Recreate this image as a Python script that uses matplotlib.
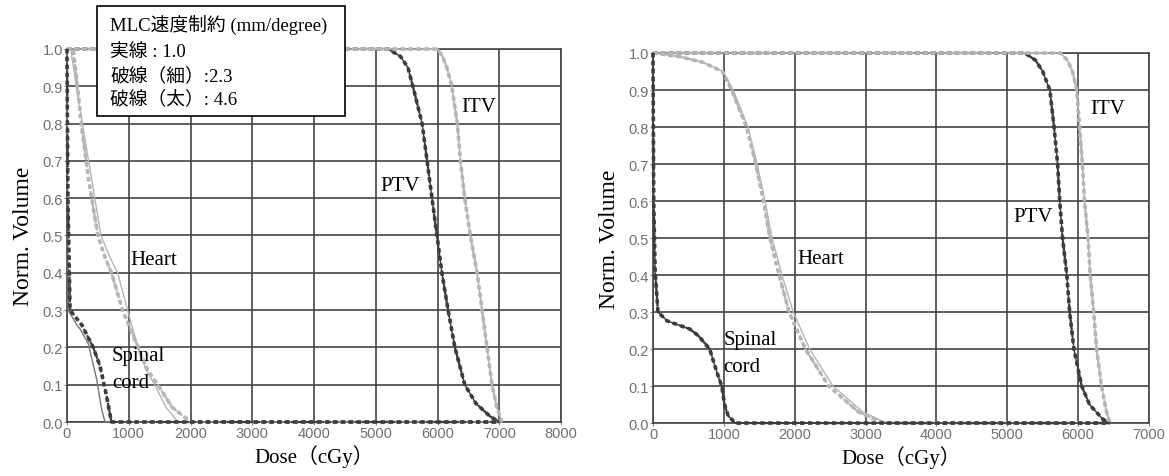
import matplotlib
matplotlib.use("Agg")
import matplotlib.pyplot as plt
from matplotlib.patches import Rectangle

# ---- data: dose (cGy) vs normalized volume ----
# left plan
L_ptv_dose = [0, 5200, 5400, 5520, 5600, 5750, 5830, 5910, 5990, 6070, 6170, 6280, 6440, 6620, 6850, 7000]
L_ptv_vol = [1, 1, 0.98, 0.95, 0.9, 0.8, 0.7, 0.6, 0.5, 0.4, 0.3, 0.2, 0.1, 0.05, 0.015, 0]
L_itv_dose = [0, 6000, 6080, 6150, 6230, 6320, 6370, 6440, 6530, 6640, 6720, 6800, 6880, 6960, 7040]
L_itv_vol = [1, 1, 0.98, 0.95, 0.9, 0.8, 0.7, 0.6, 0.5, 0.4, 0.3, 0.2, 0.1, 0.04, 0]
L_heart_dose_solid = [0, 60, 150, 250, 400, 550, 700, 820, 980, 1150, 1280, 1420, 1600, 1800, 7000]
L_heart_dose_dash = [0, 100, 170, 230, 350, 500, 620, 720, 900, 1150, 1300, 1470, 1700, 2000, 7000]
L_heart_vol = [1, 1, 0.9, 0.8, 0.65, 0.5, 0.44, 0.4, 0.3, 0.2, 0.14, 0.1, 0.04, 0, 0]
L_cord_dose_solid = [0, 0, 10, 20, 160, 210, 345, 480, 560, 615, 7000]
L_cord_vol_solid = [1, 0.98, 0.6, 0.3, 0.26, 0.25, 0.21, 0.115, 0.035, 0, 0]
L_cord_dose_dash = [0, 0, 15, 50, 240, 425, 535, 640, 720, 7000]
L_cord_vol_dash = [1, 0.98, 0.6, 0.3, 0.26, 0.2, 0.15, 0.07, 0, 0]

# right plan
R_ptv_dose = [0, 5250, 5400, 5500, 5600, 5660, 5710, 5740, 5780, 5840, 5880, 5940, 6050, 6160, 6350, 6450]
R_ptv_vol = [1, 1, 0.98, 0.95, 0.9, 0.8, 0.7, 0.6, 0.5, 0.4, 0.3, 0.2, 0.1, 0.05, 0.01, 0]
R_itv_dose = [0, 5750, 5850, 5920, 5980, 6020, 6060, 6090, 6140, 6170, 6220, 6260, 6330, 6400, 6450]
R_itv_vol = [1, 1, 0.98, 0.95, 0.9, 0.8, 0.7, 0.6, 0.5, 0.4, 0.3, 0.2, 0.1, 0.03, 0]
R_heart_dose_solid = [0, 380, 700, 990, 1130, 1340, 1470, 1580, 1680, 1820, 1980, 2210, 2540, 2960, 3300, 6450]
R_heart_dose_dash = [0, 380, 700, 980, 1110, 1320, 1450, 1560, 1650, 1780, 1920, 2150, 2480, 2900, 3250, 6450]
R_heart_vol = [1, 0.99, 0.975, 0.95, 0.9, 0.8, 0.7, 0.6, 0.5, 0.4, 0.3, 0.2, 0.1, 0.03, 0, 0]
R_cord_dose = [0, 0, 10, 30, 70, 200, 520, 640, 800, 900, 970, 1010, 1060, 1160, 6450]
R_cord_vol = [1, 0.99, 0.6, 0.41, 0.3, 0.276, 0.254, 0.236, 0.2, 0.138, 0.1, 0.05, 0.02, 0, 0]

DARK = "#3c3c3c"
LIGHT = "#b5b5b5"
SERIF = ["Liberation Serif", "Noto Sans CJK JP"]
THIN = (0, (2, 1.2))
THICK = (0, (1.2, 1.0))


def line(ax, x, y, color, kind):
    # solid = 1.0, thin dashed = 2.3, thick dashed = 4.6 mm/degree
    if kind == "solid":
        ax.plot(x, y, color=color, lw=1.0, clip_on=False, zorder=3)
    elif kind == "thin":
        ax.plot(x, y, color=color, lw=1.6, ls=THIN, clip_on=False, zorder=3)
    else:
        ax.plot(x, y, color=color, lw=2.6, ls=THICK, clip_on=False, zorder=3)


def curve(ax, x, y, color):
    for k in ("solid", "thin", "thick"):
        line(ax, x, y, color, k)


def style(ax, xmax):
    ax.set_xlim(0, xmax)
    ax.set_ylim(0, 1)
    ax.set_xticks(range(0, xmax + 1, 1000))
    ax.set_yticks([i / 10 for i in range(11)])
    ax.set_yticklabels([f"{i / 10:.1f}" for i in range(11)])
    ax.grid(True, color="#444444", lw=1.2)
    ax.set_axisbelow(True)
    for s in ax.spines.values():
        s.set_color("#444444")
        s.set_linewidth(1.2)
    ax.tick_params(length=2, width=0.8, color="#888888", pad=1,
                   labelsize=10.5, labelcolor="#707070")
    for lab in ax.get_xticklabels() + ax.get_yticklabels():
        lab.set_family("Liberation Sans")
    ax.set_ylabel("Norm. Volume", family=SERIF, fontsize=17, labelpad=6)
    ax.set_xlabel("Dose（cGy）", family=SERIF, fontsize=15, labelpad=3)


fig = plt.figure(figsize=(11.69, 4.77), dpi=100)

# left panel
ax1 = fig.add_axes([0.0573, 0.1132, 0.4227, 0.782])
style(ax1, 8000)
curve(ax1, L_ptv_dose, L_ptv_vol, DARK)
curve(ax1, L_itv_dose, L_itv_vol, LIGHT)
line(ax1, L_heart_dose_solid, L_heart_vol, LIGHT, "solid")
line(ax1, L_heart_dose_dash, L_heart_vol, LIGHT, "thin")
line(ax1, L_heart_dose_dash, L_heart_vol, LIGHT, "thick")
line(ax1, L_cord_dose_solid, L_cord_vol_solid, "#777777", "solid")
line(ax1, L_cord_dose_dash, L_cord_vol_dash, DARK, "thin")
line(ax1, L_cord_dose_dash, L_cord_vol_dash, DARK, "thick")
ax1.text(6660, 0.845, "ITV", family=SERIF, fontsize=15, ha="center", va="center")
ax1.text(5390, 0.633, "PTV", family=SERIF, fontsize=15, ha="center", va="center")
ax1.text(1400, 0.435, "Heart", family=SERIF, fontsize=15, ha="center", va="center")
ax1.text(730, 0.177, "Spinal", family=SERIF, fontsize=15, ha="left", va="center")
ax1.text(730, 0.107, "cord", family=SERIF, fontsize=15, ha="left", va="center")

# right panel
ax2 = fig.add_axes([0.5586, 0.111, 0.4243, 0.7758])
style(ax2, 7000)
curve(ax2, R_ptv_dose, R_ptv_vol, DARK)
curve(ax2, R_itv_dose, R_itv_vol, LIGHT)
line(ax2, R_heart_dose_solid, R_heart_vol, LIGHT, "solid")
line(ax2, R_heart_dose_dash, R_heart_vol, LIGHT, "thin")
line(ax2, R_heart_dose_dash, R_heart_vol, LIGHT, "thick")
curve(ax2, R_cord_dose, R_cord_vol, DARK)
ax2.text(6420, 0.849, "ITV", family=SERIF, fontsize=15, ha="center", va="center")
ax2.text(5360, 0.557, "PTV", family=SERIF, fontsize=15, ha="center", va="center")
ax2.text(2370, 0.446, "Heart", family=SERIF, fontsize=15, ha="center", va="center")
ax2.text(990, 0.227, "Spinal", family=SERIF, fontsize=15, ha="left", va="center")
ax2.text(990, 0.154, "cord", family=SERIF, fontsize=15, ha="left", va="center")

# note box explaining the line styles
W, H = 1169, 477
fig.patches.append(Rectangle((97 / W, 1 - 117 / H), 248 / W, 110 / H,
                             transform=fig.transFigure, facecolor="white",
                             edgecolor="black", lw=1.2, zorder=10))
notes = ["MLC速度制約 (mm/degree)", "実線 : 1.0", "破線（細）:2.3", "破線（太）: 4.6"]
ys = [25, 53, 76, 99]
for t, y in zip(notes, ys):
    fig.text(110 / W, 1 - y / H, t, family=SERIF, fontsize=13.5, va="center",
             ha="left", zorder=11)

fig.savefig("out.png", dpi=100)
